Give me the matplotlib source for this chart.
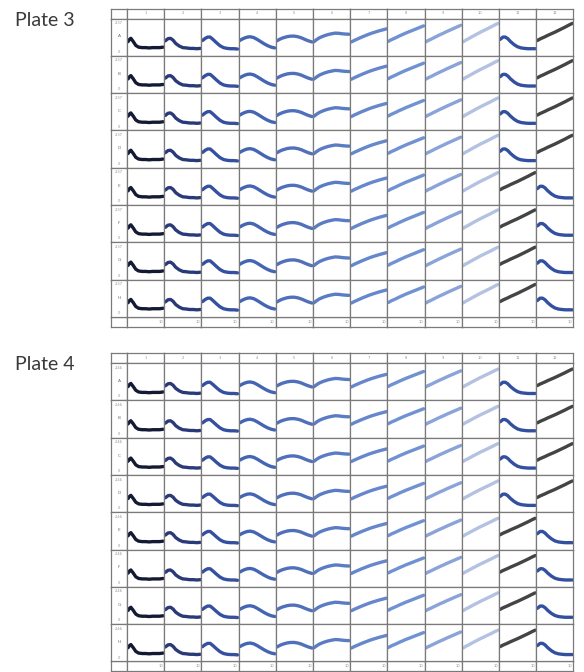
import matplotlib
matplotlib.use("Agg")
import matplotlib.pyplot as plt

# time points of each trace (0-10)
t = [0, 0.4, 0.8, 1.5, 2.2, 3, 4, 5, 6, 7, 8, 9, 10]

# trace shapes read per column (absorbance)
col1 = [0.90, 1.04, 1.11, 0.90, 0.66, 0.55, 0.52, 0.52, 0.50, 0.52, 0.52, 0.52, 0.55]
col2 = [0.95, 1.02, 1.09, 1.11, 1.00, 0.78, 0.62, 0.52, 0.50, 0.47, 0.47, 0.45, 0.47]
col3 = [0.97, 1.04, 1.11, 1.19, 1.19, 1.04, 0.83, 0.64, 0.52, 0.47, 0.45, 0.45, 0.43]
col4 = [0.97, 1.02, 1.07, 1.14, 1.19, 1.21, 1.16, 1.04, 0.90, 0.76, 0.64, 0.55, 0.50]
col5 = [0.95, 1.00, 1.05, 1.12, 1.17, 1.22, 1.25, 1.25, 1.21, 1.14, 1.04, 0.95, 0.88]
col6 = [0.90, 0.97, 1.04, 1.14, 1.21, 1.28, 1.35, 1.40, 1.44, 1.43, 1.40, 1.38, 1.37]
col7 = [0.88, 0.92, 0.97, 1.04, 1.11, 1.19, 1.28, 1.37, 1.45, 1.52, 1.59, 1.65, 1.71]
col8 = [0.92, 0.97, 1.02, 1.09, 1.16, 1.25, 1.35, 1.45, 1.54, 1.63, 1.72, 1.81, 1.90]
col9 = [0.88, 0.93, 0.98, 1.05, 1.13, 1.22, 1.33, 1.43, 1.54, 1.64, 1.74, 1.84, 1.94]
col10 = [0.88, 0.93, 0.99, 1.07, 1.16, 1.26, 1.38, 1.50, 1.61, 1.72, 1.83, 1.95, 2.06]
hump = [1.04, 1.11, 1.19, 1.19, 1.09, 0.90, 0.71, 0.57, 0.50, 0.47, 0.45, 0.45, 0.45]
grey = [0.97, 1.02, 1.07, 1.14, 1.21, 1.30, 1.40, 1.50, 1.61, 1.72, 1.83, 1.95, 2.06]

rows = ["A", "B", "C", "D", "E", "F", "G", "H"]
cols = [str(i) for i in range(1, 13)]
plates = ["Plate 3", "Plate 4"]
ymax = [2.37, 2.46]

colors = ["#141a33", "#2a3a78", "#3550a0", "#4565b4", "#5070bb", "#5a7cc4",
          "#6687cc", "#7092d2", "#8aa3d8", "#b4c2e2", "#3350a0", "#444444"]

W, H = 584, 672
fig = plt.figure(figsize=(W / 100, H / 100), dpi=100)

def box(x0, y0, w, h):
    ax = fig.add_axes([x0 / W, 1 - (y0 + h) / H, w / W, h / H])
    ax.set_xticks([])
    ax.set_yticks([])
    for s in ax.spines.values():
        s.set_color("#7a7a7a")
        s.set_linewidth(0.9)
    return ax

left, lab_w, cw = 111, 16, 37.2
head_h, rh, foot_h = 10, 37.3, 10
tops = [8.5, 353]
small = dict(color="#909090", fontsize=2.6)

for p in range(2):
    top = tops[p]
    fig.text(15 / W, 1 - (top + 11.5) / H, plates[p], fontsize=14, family="Lato",
             color="#3a3a3a", va="center", ha="left")
    box(left, top, lab_w, head_h)
    box(left, top + head_h + 8 * rh, lab_w, foot_h)
    for c in range(12):
        ax = box(left + lab_w + c * cw, top, cw, head_h)
        ax.text(0.5, 0.5, cols[c], transform=ax.transAxes, ha="center", va="center", **small)
        ax = box(left + lab_w + c * cw, top + head_h + 8 * rh, cw, foot_h)
        ax.text(0.97, 0.5, "10", transform=ax.transAxes, ha="right", va="center", **small)
    for r in range(8):
        y0 = top + head_h + r * rh
        ax = box(left, y0, lab_w, rh)
        ax.text(0.5, 0.93, f"{ymax[p]:.2f}", transform=ax.transAxes, ha="center", va="top", **small)
        ax.text(0.5, 0.52, rows[r], transform=ax.transAxes, ha="center", va="center",
                color="#707070", fontsize=3.2)
        ax.text(0.5, 0.05, "0", transform=ax.transAxes, ha="center", va="bottom", **small)
        traces = [col1, col2, col3, col4, col5, col6, col7, col8, col9, col10, hump, grey]
        tcols = list(colors)
        if r >= 4:
            traces[10], traces[11] = grey, hump
            tcols[10], tcols[11] = colors[11], colors[10]
        for c in range(12):
            ax = box(left + lab_w + c * cw, y0, cw, rh)
            ax.plot(t, traces[c], color=tcols[c], lw=2.4, solid_capstyle="round")
            ax.set_xlim(-0.3, 10.3)
            ax.set_ylim(0, ymax[p])

fig.savefig("out.png", dpi=100)
